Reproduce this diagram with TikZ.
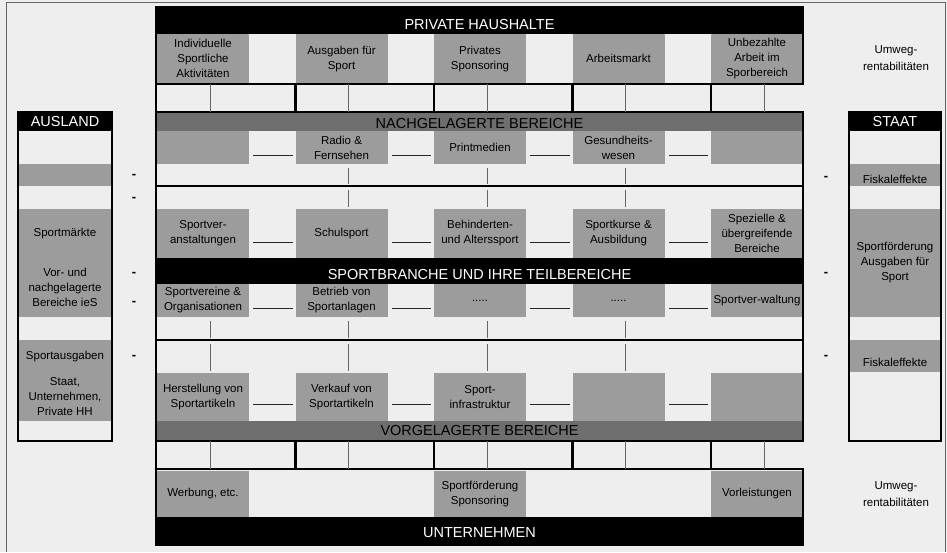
\documentclass[tikz,border=0pt]{standalone}
\usepackage{fontspec}
\setmainfont{Liberation Sans}
\usetikzlibrary{positioning, calc}

\definecolor{hintergrund}{HTML}{EEEEEE}
\definecolor{feldgrau}{HTML}{9C9C9C}
\definecolor{balkengrau}{HTML}{6E6E6E}
\newcommand{\punkte}{.....}

\begin{document}
\begin{tikzpicture}[
		x=1pt, y=-1pt, % Pixelraster, y nach unten
		% --- Stile ---
		feld/.style={
			fill=feldgrau,
			anchor=north west,
			minimum width=92,
			inner sep=0pt, outer sep=0pt,
			align=center,
			font=\fontsize{11.5}{15}\selectfont
		},
		balken/.style={
			fill=black, text=white,
			anchor=north west,
			minimum width=647,
			inner sep=0pt, outer sep=0pt,
			font=\fontsize{14.5}{16}\selectfont
		},
		rahmen/.style={draw, line width=2.5pt, anchor=north west, inner sep=0pt, outer sep=0pt},
		dick/.style={line width=2.5pt},
		trenn/.style={line width=1.8pt},
		verbinder/.style={draw=black!85, line width=0.9pt},
		senkrecht/.style={draw=black!60, line width=1pt},
		kurz/.style={shorten <=4pt, shorten >=2.5pt},
		strich/.style={font=\bfseries\fontsize{13}{13}\selectfont},
		umweg/.style={align=center, font=\fontsize{11.5}{16.5}\selectfont}
		]
		% 1. Hintergrund und Rand
		\useasboundingbox (0,0) rectangle (947,552);
		\fill[hintergrund] (0,0) rectangle (947,552);
		\draw[black!60, line width=1pt] (6.5,552) |- (945.5,2.5) -- (945.5,552);
		
		% 2. Balken
		\node[balken, minimum height=27, text height=17.5pt, text depth=0pt] (bph) at (156,7) {PRIVATE HAUSHALTE};
		\node[balken, fill=balkengrau, text=black, minimum height=19, text height=13pt, text depth=0pt] (bnach) at (156,112) {NACHGELAGERTE BEREICHE};
		\node[balken, minimum height=26, text height=17.5pt, text depth=0pt] (bsport) at (156,258) {SPORTBRANCHE UND IHRE TEILBEREICHE};
		\node[balken, fill=balkengrau, text=black, minimum height=20] (bvor) at (156,421) {VORGELAGERTE BEREICHE};
		\node[balken, minimum height=28, text height=13.5pt, text depth=0pt] (bunt) at (156,517) {UNTERNEHMEN};
		
		% 3. Graue Felder, Spalte fuer Spalte
		\foreach \t [count=\i] in {{Individuelle\\Sportliche\\Aktivitäten}, {Ausgaben für\\Sport}, {Privates\\Sponsoring}, Arbeitsmarkt, {Unbezahlte\\Arbeit im\\Sporbereich}}
		\node[feld, minimum height=49.5] (h\i) at ({157+(\i-1)*138.5},34) {\t};
		\foreach \t [count=\i] in {{}, {Radio \&\\Fernsehen}, Printmedien, {Gesundheits-\\wesen}, {}}
		\node[feld, minimum height=33] (a\i) at ({157+(\i-1)*138.5},131) {\t};
		\foreach \t [count=\i] in {{Sportver-\\anstaltungen}, Schulsport, {Behinderten-\\und Alterssport}, {Sportkurse \&\\Ausbildung}, {Spezielle \&\\übergreifende\\Bereiche}}
		\node[feld, minimum height=49] (b\i) at ({157+(\i-1)*138.5},209) {\t};
		\foreach \t [count=\i] in {{Sportvereine \&\\Organisationen}, {Betrieb von\\Sportanlagen}, \punkte, \punkte, Sportver-waltung}
		\node[feld, minimum height=33] (c\i) at ({157+(\i-1)*138.5},284) {\t};
		\foreach \t [count=\i] in {{Herstellung von\\Sportartikeln}, {Verkauf von\\Sportartikeln}, {Sport-\\infrastruktur}, {}, {}}
		\node[feld, minimum height=48] (d\i) at ({157+(\i-1)*138.5},373) {\t};
		\node[feld, minimum height=46] (u1) at (157,471) {Werbung, etc.};
		\node[feld, minimum height=46] (u3) at (434,471) {Sportförderung\\Sponsoring};
		\node[feld, minimum height=46] (u5) at (711,471) {Vorleistungen};
		
		% 4. Ausland (links) und Staat (rechts)
		\node[balken, minimum width=94, minimum height=19] (aushead) at (18,112) {AUSLAND};
		\node[feld, minimum height=22] (aus1) at (19,164) {};
		\node[feld, minimum height=49] (aus2) at (19,209) {Sportmärkte};
		\node[feld, minimum height=59] (aus3) at (19,258) {Vor- und\\nachgelagerte\\Bereiche ieS};
		\node[feld, minimum height=33] (aus4) at (19,340) {Sportausgaben};
		\node[feld, minimum height=48] (aus5) at (19,373) {Staat,\\Unternehmen,\\Private HH};
		
		\node[balken, minimum width=92, minimum height=19] (staathead) at (849,112) {STAAT};
		\node[feld, minimum width=90, minimum height=22, text height=16pt, text depth=0pt] (st1) at (850,164) {Fiskaleffekte};
		\node[feld, minimum width=90, minimum height=108] (st2) at (850,209) {Sportförderung\\Ausgaben für\\Sport};
		\node[feld, minimum width=90, minimum height=32, text height=20pt, text depth=0pt] (st3) at (850,340) {Fiskaleffekte};
		
		% 5. Rahmen
		\node[rahmen, minimum width=647, minimum height=77] (haushalte) at (156,7) {};
		\node[rahmen, minimum width=647, minimum height=329] (mitte) at (156,112) {};
		\node[rahmen, minimum width=647, minimum height=76] (unternehmen) at (156,469) {};
		\node[rahmen, minimum width=94, minimum height=329] (ausland) at (18,112) {};
		\node[rahmen, minimum width=92, minimum height=329] (staat) at (849,112) {};
		
		\coordinate (trennA) at (156,186);
		\coordinate (trennB) at (156,340);
		\draw[trenn] (trennA) -- (trennA -| mitte.east);
		\draw[trenn] (trennB) -- (trennB -| mitte.east);
		
		% 6. Verbindungsreihen oben und unten
		\draw[dick] (haushalte.south west) -- (mitte.north west);
		\draw[dick] (mitte.south west) -- (unternehmen.north west);
		\foreach \i in {2,...,5} {
			\draw[dick] (h\i.south west) -- (h\i.south west |- mitte.north);
			\draw[dick] (d\i.south west |- mitte.south) -- (d\i.south west |- unternehmen.north);
		}
		\foreach \i in {1,...,5} {
			\path (h\i.south) ++(7,0) coordinate (ho\i);
			\draw[senkrecht] (ho\i) -- (ho\i |- mitte.north);
			\path (d\i.south) ++(7,0) coordinate (do\i);
			\draw[senkrecht] (do\i |- mitte.south) -- (do\i |- unternehmen.north);
		}
		
		% 7. Senkrechte Linien im Mittelteil
		\foreach \i in {2,3,4} {
			\path (a\i.south) ++(7,0) coordinate (ao\i);
			\draw[senkrecht, kurz] (ao\i) -- (ao\i |- trennA);
			\draw[senkrecht, kurz] (ao\i |- trennA) -- (ao\i |- b\i.north);
		}
		\foreach \i in {1,...,4} {
			\path (c\i.south) ++(7,0) coordinate (co\i);
			\draw[senkrecht, kurz] (co\i) -- (co\i |- trennB);
			\draw[senkrecht, kurz] (co\i |- trennB) -- (co\i |- d\i.north);
		}
		
		% 8. Waagrechte Verbinder zwischen den Feldern
		\foreach \r/\o in {a/9, b/16, c/9, d/17}
		\foreach \i [count=\j from 2] in {1,...,4}
		\draw[verbinder] ([shift={(4,-\o)}]\r\i.south east) -- ([shift={(-3,-\o)}]\r\j.south west);
		
		% 9. Striche und Umwegrentabilitaeten
		\foreach \y [count=\i] in {176,199,274,303,357}
		\node[strich] (sl\i) at (134,\y) {-};
		\foreach \y [count=\i] in {178,274,357}
		\node[strich] (sr\i) at (826,\y) {-};
		\node[umweg] (umwegO) at (896,58) {Umweg-\\rentabilitäten};
		\node[umweg] (umwegU) at (896,494) {Umweg-\\rentabilitäten};
		
	\end{tikzpicture}
\end{document}
